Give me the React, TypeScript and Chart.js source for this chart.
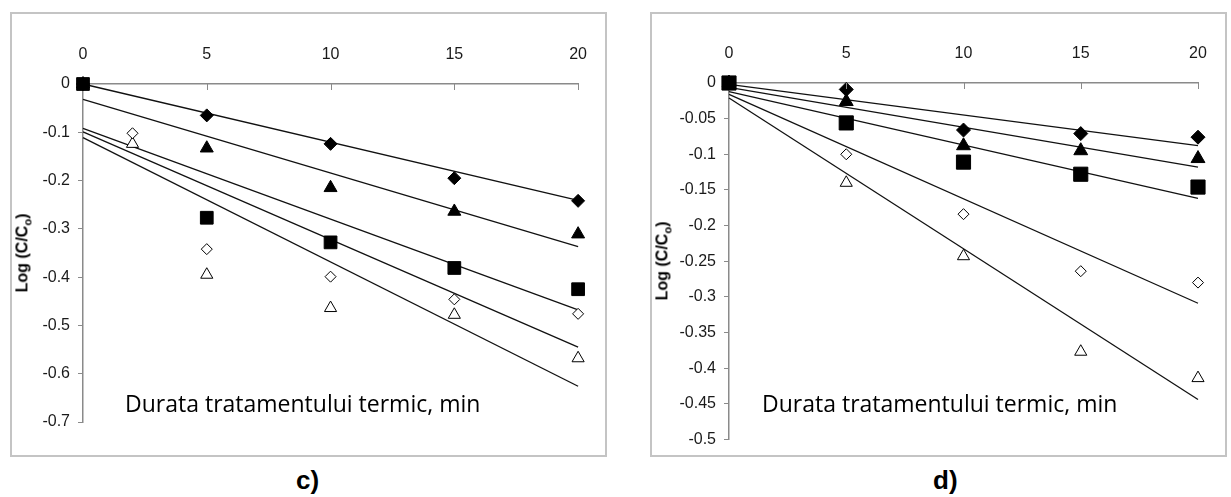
import React, { useEffect, useRef } from 'react';
import { Chart, registerables } from 'chart.js';
Chart.register(...registerables);

// ---------- data: panel c) ----------
const cTime = [0, 5, 10, 15, 20];
const cTimeOpen = [0, 2, 5, 10, 15, 20];
const cFilledDiamond = [0, -0.065, -0.124, -0.195, -0.242];
const cFilledTriangle = [0, -0.133, -0.215, -0.264, -0.311];
const cFilledSquare = [0, -0.277, -0.328, -0.381, -0.425];
const cOpenDiamond = [0, -0.102, -0.342, -0.399, -0.446, -0.476];
const cOpenTriangle = [0, -0.124, -0.395, -0.464, -0.478, -0.568];
const trendX = [0, 20];
const cTrendFilledDiamond = [0, -0.241];
const cTrendFilledTriangle = [-0.032, -0.337];
const cTrendFilledSquare = [-0.092, -0.468];
const cTrendOpenDiamond = [-0.099, -0.545];
const cTrendOpenTriangle = [-0.111, -0.626];
const cYMin = -0.7;
const cYStep = 0.1;

// ---------- data: panel d) ----------
const dTime = [0, 5, 10, 15, 20];
const dFilledDiamond = [0, -0.009, -0.066, -0.071, -0.076];
const dFilledTriangle = [0, -0.026, -0.088, -0.095, -0.106];
const dFilledSquare = [0, -0.056, -0.111, -0.128, -0.146];
const dOpenDiamond = [0, -0.1, -0.184, -0.264, -0.28];
const dOpenTriangle = [0, -0.14, -0.243, -0.377, -0.414];
const dTrendFilledDiamond = [-0.002, -0.088];
const dTrendFilledTriangle = [-0.006, -0.118];
const dTrendFilledSquare = [-0.012, -0.162];
const dTrendOpenDiamond = [-0.016, -0.309];
const dTrendOpenTriangle = [-0.021, -0.444];
const dYMin = -0.5;
const dYStep = 0.05;

const xMin = 0;
const xMax = 20;
const xStep = 5;
const xTitle = 'Durata tratamentului termic, min';

const pts = (xs: number[], ys: number[]) => xs.map((x, i) => ({ x, y: ys[i] }));

const TICK_FONT = "'Liberation Sans Narrow','Liberation Sans',Arial,sans-serif";

type MarkerSpec = { xs: number[]; ys: number[]; style: string; r: number; filled: boolean };

const innerTicks = {
  id: 'innerTicks',
  afterDraw(chart: any) {
    const { ctx, chartArea } = chart;
    const xs = chart.scales.x;
    ctx.save();
    ctx.strokeStyle = '#8a8a8a';
    ctx.lineWidth = 1;
    xs.ticks.forEach((t: any) => {
      if (t.value === xMin) return;
      const px = Math.round(xs.getPixelForValue(t.value)) + 0.5;
      ctx.beginPath();
      ctx.moveTo(px, chartArea.top);
      ctx.lineTo(px, chartArea.top + 6);
      ctx.stroke();
    });
    ctx.restore();
  },
};

function buildChart(
  canvas: HTMLCanvasElement,
  markers: MarkerSpec[],
  trends: number[][],
  yMin: number,
  yStep: number,
  yAxisWidth: number,
  xAxisHeight: number,
  padding: { left: number; top: number; right: number; bottom: number }
) {
  const datasets: any[] = [];
  trends.forEach((t) => {
    datasets.push({
      data: pts(trendX, t),
      showLine: true,
      borderColor: '#111',
      borderWidth: 1.3,
      pointRadius: 0,
      order: 10,
      clip: false,
    });
  });
  markers.forEach((m, i) => {
    datasets.push({
      data: pts(m.xs, m.ys),
      showLine: false,
      pointStyle: m.style,
      pointRadius: m.r,
      pointBackgroundColor: m.filled ? '#000' : '#fff',
      pointBorderColor: '#000',
      pointBorderWidth: 1,
      order: i,
      clip: false,
    });
  });
  return new Chart(canvas, {
    type: 'scatter',
    data: { datasets },
    plugins: [innerTicks],
    options: {
      animation: false,
      responsive: false,
      maintainAspectRatio: false,
      events: [],
      layout: { padding },
      plugins: { legend: { display: false }, tooltip: { enabled: false } },
      scales: {
        x: {
          type: 'linear',
          position: 'top',
          min: xMin,
          max: xMax,
          afterFit: (s: any) => {
            s.height = xAxisHeight;
          },
          ticks: {
            stepSize: xStep,
            color: '#1a1a1a',
            font: { family: TICK_FONT, size: 16 },
            padding: 20,
            maxRotation: 0,
          },
          grid: { display: true, drawOnChartArea: false, drawTicks: false, color: '#8a8a8a' },
          border: { display: true, color: '#8a8a8a', width: 1.5 },
        },
        y: {
          type: 'linear',
          min: yMin,
          max: 0,
          afterFit: (s: any) => {
            s.width = yAxisWidth;
          },
          ticks: {
            stepSize: yStep,
            color: '#1a1a1a',
            font: { family: TICK_FONT, size: 16 },
            padding: 8,
            callback: (v: any) => String(Number(Number(v).toFixed(2))),
          },
          grid: { display: true, drawOnChartArea: false, drawTicks: true, tickLength: 5, color: '#8a8a8a' },
          border: { display: true, color: '#8a8a8a', width: 1.5 },
        },
      },
    } as any,
  });
}

function Panel(props: {
  left: number;
  width: number;
  markers: MarkerSpec[];
  trends: number[][];
  yMin: number;
  yStep: number;
  yAxisWidth: number;
  xAxisHeight: number;
  padding: { left: number; top: number; right: number; bottom: number };
  titleLeft: number;
  titleY: number;
  yTitleX: number;
  yTitleY: number;
}) {
  const ref = useRef<HTMLCanvasElement | null>(null);
  useEffect(() => {
    if (!ref.current) return;
    const ch = buildChart(
      ref.current,
      props.markers,
      props.trends,
      props.yMin,
      props.yStep,
      props.yAxisWidth,
      props.xAxisHeight,
      props.padding
    );
    return () => ch.destroy();
  }, []);
  const top = 12;
  const height = 445;
  return (
    <>
      <div
        style={{
          position: 'absolute',
          left: props.left,
          top,
          width: props.width,
          height,
          border: '2px solid #c4c4c4',
          boxSizing: 'border-box',
        }}
      />
      <canvas
        ref={ref}
        width={props.width}
        height={height}
        style={{ position: 'absolute', left: props.left, top, width: props.width, height }}
      />
      <div
        style={{
          position: 'absolute',
          left: props.titleLeft,
          top: props.titleY - 15,
          font: "23px 'Open Sans', 'Noto Sans', sans-serif",
          lineHeight: '30px',
          color: '#000',
          whiteSpace: 'nowrap',
        }}
      >
        {xTitle}
      </div>
      <div
        style={{
          position: 'absolute',
          left: props.yTitleX,
          top: props.yTitleY,
          transform: 'translate(-50%, -50%) rotate(-90deg)',
          font: "bold 16px 'Liberation Sans', Arial, sans-serif",
          color: '#000',
          whiteSpace: 'nowrap',
          lineHeight: '18px',
        }}
      >
        Log (C/C<sub style={{ fontSize: '11px' }}>o</sub>)
      </div>
    </>
  );
}

export default function App() {
  const cMarkers: MarkerSpec[] = [
    { xs: cTime, ys: cFilledSquare, style: 'rect', r: 9, filled: true },
    { xs: cTime, ys: cFilledDiamond, style: 'rectRot', r: 6.5, filled: true },
    { xs: cTime, ys: cFilledTriangle, style: 'triangle', r: 7.5, filled: true },
    { xs: cTimeOpen, ys: cOpenDiamond, style: 'rectRot', r: 5.5, filled: false },
    { xs: cTimeOpen, ys: cOpenTriangle, style: 'triangle', r: 7, filled: false },
  ];
  const dMarkers: MarkerSpec[] = [
    { xs: dTime, ys: dFilledSquare, style: 'rect', r: 10, filled: true },
    { xs: dTime, ys: dFilledDiamond, style: 'rectRot', r: 7, filled: true },
    { xs: dTime, ys: dFilledTriangle, style: 'triangle', r: 8, filled: true },
    { xs: dTime, ys: dOpenDiamond, style: 'rectRot', r: 5.5, filled: false },
    { xs: dTime, ys: dOpenTriangle, style: 'triangle', r: 7, filled: false },
  ];
  return (
    <div
      style={{
        position: 'absolute',
        left: 0,
        top: 0,
        width: 1231,
        height: 497,
        background: '#fff',
        overflow: 'hidden',
      }}
    >
      <Panel
        left={10}
        width={597}
        markers={cMarkers}
        trends={[cTrendFilledDiamond, cTrendFilledTriangle, cTrendFilledSquare, cTrendOpenDiamond, cTrendOpenTriangle]}
        yMin={cYMin}
        yStep={cYStep}
        yAxisWidth={73}
        xAxisHeight={72}
        padding={{ left: 0, top: 0, right: 24, bottom: 35 }}
        titleLeft={125}
        titleY={403}
        yTitleX={25}
        yTitleY={253}
      />
      <Panel
        left={650}
        width={577}
        markers={dMarkers}
        trends={[dTrendFilledDiamond, dTrendFilledTriangle, dTrendFilledSquare, dTrendOpenDiamond, dTrendOpenTriangle]}
        yMin={dYMin}
        yStep={dYStep}
        yAxisWidth={79}
        xAxisHeight={71}
        padding={{ left: 0, top: 0, right: 29, bottom: 14 }}
        titleLeft={762}
        titleY={403}
        yTitleX={665}
        yTitleY={261}
      />
      <div
        style={{
          position: 'absolute',
          left: 296,
          top: 465,
          font: "bold 26px 'Liberation Sans', Arial, sans-serif",
          color: '#000',
          lineHeight: '30px',
        }}
      >
        c)
      </div>
      <div
        style={{
          position: 'absolute',
          left: 933,
          top: 465,
          font: "bold 26px 'Liberation Sans', Arial, sans-serif",
          color: '#000',
          lineHeight: '30px',
        }}
      >
        d)
      </div>
    </div>
  );
}
